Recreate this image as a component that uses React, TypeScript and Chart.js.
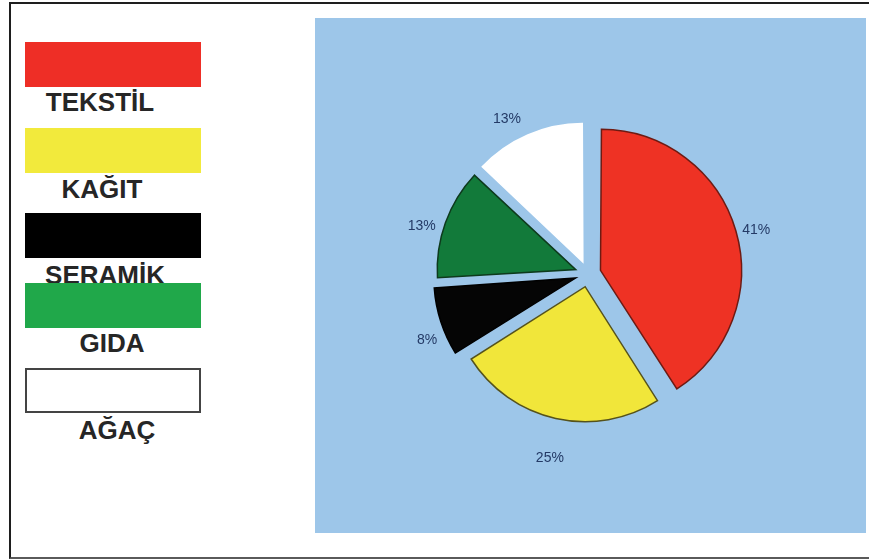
import React, { useEffect, useRef } from "react";
import { Chart, registerables } from "chart.js";

Chart.register(...registerables);

// ---- data ----
const categories = ["TEKSTİL", "KAĞIT", "SERAMİK", "GIDA", "AĞAÇ"];
const shares = [41, 25, 8, 13, 13];

// ---- styles ----
const sliceColors = ["#ee3224", "#f1e63a", "#050505", "#127a3a", "#ffffff"];
const sliceBorders = ["#6e1a12", "#55521c", "#000000", "#0d3a1c", "#ffffff"];
const legendColors = ["#ee2e26", "#f2ea3c", "#000000", "#20a84a", "#ffffff"];
const labelGap = [39, 53, 39, 38, 40];
const labelTurnDeg = [1.5, -0.9, -4.3, -3.7, -4.2];

// legend layout (page px)
const legendRectTops = [42, 128, 213, 283, 368];
const legendTextTops = [89, 176, 262, 330, 417];
const legendTextCenters = [100, 102, 105, 112, 117];

const FONT = "'Liberation Sans', Arial, Helvetica, sans-serif";

const labelPlugin = {
  id: "sliceLabels",
  afterDatasetsDraw(chart: any) {
    const ctx = chart.ctx;
    const meta = chart.getDatasetMeta(0);
    ctx.save();
    ctx.font = `14px ${FONT}`;
    ctx.fillStyle = "#243a66";
    ctx.textAlign = "center";
    ctx.textBaseline = "middle";
    meta.data.forEach((arc: any, i: number) => {
      const { x, y, startAngle, endAngle, outerRadius } = arc.getProps(
        ["x", "y", "startAngle", "endAngle", "outerRadius"],
        true
      );
      const mid = (startAngle + endAngle) / 2 + (labelTurnDeg[i] * Math.PI) / 180;
      const r = outerRadius + labelGap[i];
      ctx.fillText(`${shares[i]}%`, x + Math.cos(mid) * r, y + Math.sin(mid) * r);
    });
    ctx.restore();
  },
};

export default function App() {
  const canvasRef = useRef<HTMLCanvasElement | null>(null);

  useEffect(() => {
    if (!canvasRef.current) return;
    const chart = new Chart(canvasRef.current, {
      type: "pie",
      data: {
        labels: categories,
        datasets: [
          {
            data: shares,
            backgroundColor: sliceColors,
            borderColor: sliceBorders,
            borderWidth: 1.5,
            borderJoinStyle: "miter",
            offset: 52,
            radius: 135,
          } as any,
        ],
      },
      options: {
        responsive: false,
        animation: false,
        events: [],
        layout: { padding: { left: 0, right: 5, top: 0, bottom: 3 } },
        plugins: {
          legend: { display: false },
          tooltip: { enabled: false },
        },
      },
      plugins: [labelPlugin],
    });
    return () => chart.destroy();
  }, []);

  return (
    <div
      style={{
        position: "fixed",
        left: 0,
        top: 0,
        width: 869,
        height: 559,
        background: "#ffffff",
        overflow: "hidden",
        fontFamily: FONT,
      }}
    >
      {/* outer frame */}
      <div
        style={{
          position: "absolute",
          left: 9,
          top: 2,
          width: 880,
          height: 553,
          borderTop: "2px solid #1e1e1e",
          borderLeft: "2px solid #1e1e1e",
          borderBottom: "2px solid #5a5a5a",
        }}
      />
      {/* legend labels (drawn under the rects) */}
      {categories.map((c, i) => (
        <div
          key={"t" + i}
          style={{
            position: "absolute",
            left: legendTextCenters[i] - 100,
            top: legendTextTops[i],
            width: 200,
            textAlign: "center",
            fontSize: 26,
            lineHeight: "26px",
            fontWeight: "bold",
            color: "#262626",
            whiteSpace: "nowrap",
          }}
        >
          {c}
        </div>
      ))}
      {/* legend swatches */}
      {categories.map((c, i) => (
        <div
          key={"r" + i}
          style={{
            position: "absolute",
            left: 25,
            top: legendRectTops[i],
            width: 176,
            height: 45,
            boxSizing: "border-box",
            background: legendColors[i],
            border: i === 4 ? "2px solid #444444" : "none",
          }}
        />
      ))}
      {/* blue chart panel */}
      <div
        style={{
          position: "absolute",
          left: 315,
          top: 18,
          width: 551,
          height: 515,
          background: "#9dc6e9",
        }}
      >
        <canvas
          ref={canvasRef}
          width={551}
          height={515}
          style={{ display: "block", width: 551, height: 515 }}
        />
      </div>
    </div>
  );
}
